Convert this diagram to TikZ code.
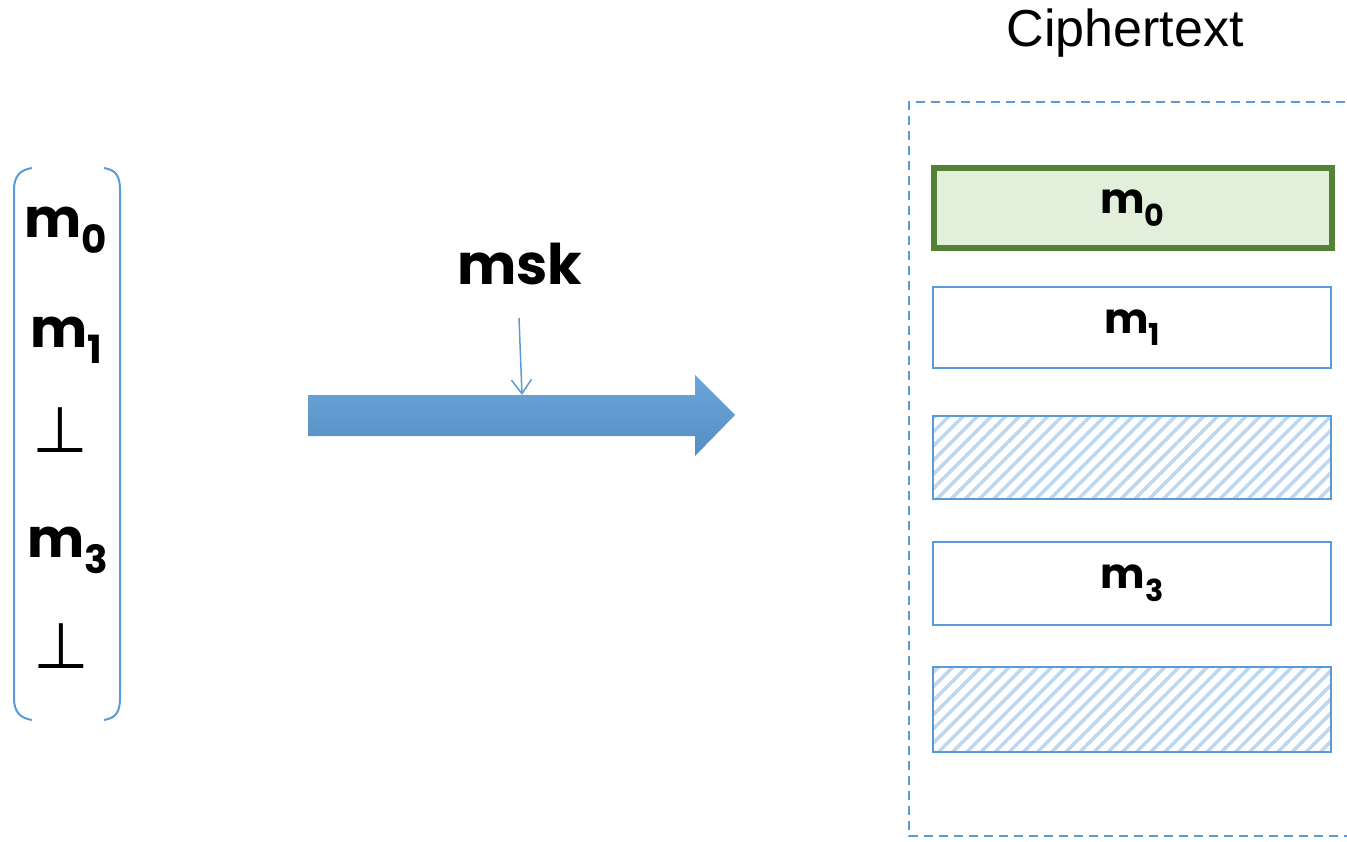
\documentclass[tikz,border=0pt]{standalone}
\usepackage{fontspec}
\setmainfont{Liberation Sans}
\newfontfamily\mfont{Poppins}
\newfontfamily\symfont{DejaVu Sans}
\usetikzlibrary{arrows.meta,patterns.meta}
\definecolor{bl}{HTML}{5B9BD5}
\definecolor{hatch}{HTML}{BDD7EE}
\definecolor{gdraw}{HTML}{538135}
\definecolor{gfill}{HTML}{E2EFDA}
\newcommand{\mm}[1]{{\mfont\bfseries m\raisebox{-0.3em}{\scalebox{0.72}{#1}}}}
\tikzset{
  mtxt/.style={font=\fontsize{42}{46}\selectfont, inner sep=0pt},
  ltxt/.style={font=\fontsize{54}{58}\selectfont, inner sep=0pt},
  bot/.style={font=\symfont\fontsize{64}{64}\selectfont, inner sep=0pt},
  slot/.style={draw=bl, line width=2pt},
  hslot/.style={draw=bl, line width=2pt, pattern={Lines[angle=45,distance=10pt,line width=3.5pt]}, pattern color=hatch},
  gslot/.style={draw=gdraw, fill=gfill, line width=6pt},
}
\begin{document}
\begin{tikzpicture}[x=1pt,y=-1pt]
\useasboundingbox (0,0) rectangle (1347,842);
% left bracket
\draw[bl, line width=2pt] (32,168) .. controls (20,170) and (14,176) .. (14,190) -- (14,698) .. controls (14,712) and (20,718) .. (32,720);
\draw[bl, line width=2pt] (104,168) .. controls (116,170) and (120,176) .. (120,190) -- (120,698) .. controls (120,712) and (116,718) .. (104,720);
\node[ltxt] (l0) at (66,230) {\mm{0}};
\node[ltxt] (l1) at (66,340) {\mm{1}};
\node[bot] (l2) at (60,430) {⊥};
\node[ltxt] (l3) at (68,550) {\mm{3}};
\node[bot] (l4) at (61,646) {⊥};
% big arrow
\shade[top color=bl!90!white, bottom color=bl!92!black, draw=none]
  (308,395) -- (695,395) -- (695,375) -- (735,415) -- (695,456) -- (695,436) -- (308,436) -- cycle;
\coordinate (atop) at (522,395);
\node[font=\mfont\bfseries\fontsize{56}{60}\selectfont, inner sep=0pt] (msk) at (520,264) {msk};
\coordinate (mskbot) at (519,318);
\draw[bl, line width=1.5pt, -{Straight Barb[length=14pt,width=20pt,line width=1.5pt]}] (mskbot) -- (atop);
% ciphertext
\node[font=\fontsize{52}{56}\selectfont, inner sep=0pt] (ct) at (1125,33) {Ciphertext};
\draw[bl, line width=2.5pt, dash pattern=on 9pt off 6pt] (1360,102) -- (909,102) -- (909,836) -- (1360,836);
\node[gslot, minimum width=398pt, minimum height=80pt, inner sep=0pt] (c0) at (1132.5,208) {};
\node[mtxt] at (c0) {\mm{0}};
\node[slot, minimum width=398pt, minimum height=81pt, inner sep=0pt] (c1) at (1132,327.5) {};
\node[mtxt] at (c1) {\mm{1}};
\node[hslot, minimum width=398pt, minimum height=83pt, inner sep=0pt] (c2) at (1132,457.5) {};
\node[slot, minimum width=398pt, minimum height=83pt, inner sep=0pt] (c3) at (1132,583.5) {};
\node[mtxt] at (c3) {\mm{3}};
\node[hslot, minimum width=398pt, minimum height=85pt, inner sep=0pt] (c4) at (1132,709.5) {};
\end{tikzpicture}
\end{document}
